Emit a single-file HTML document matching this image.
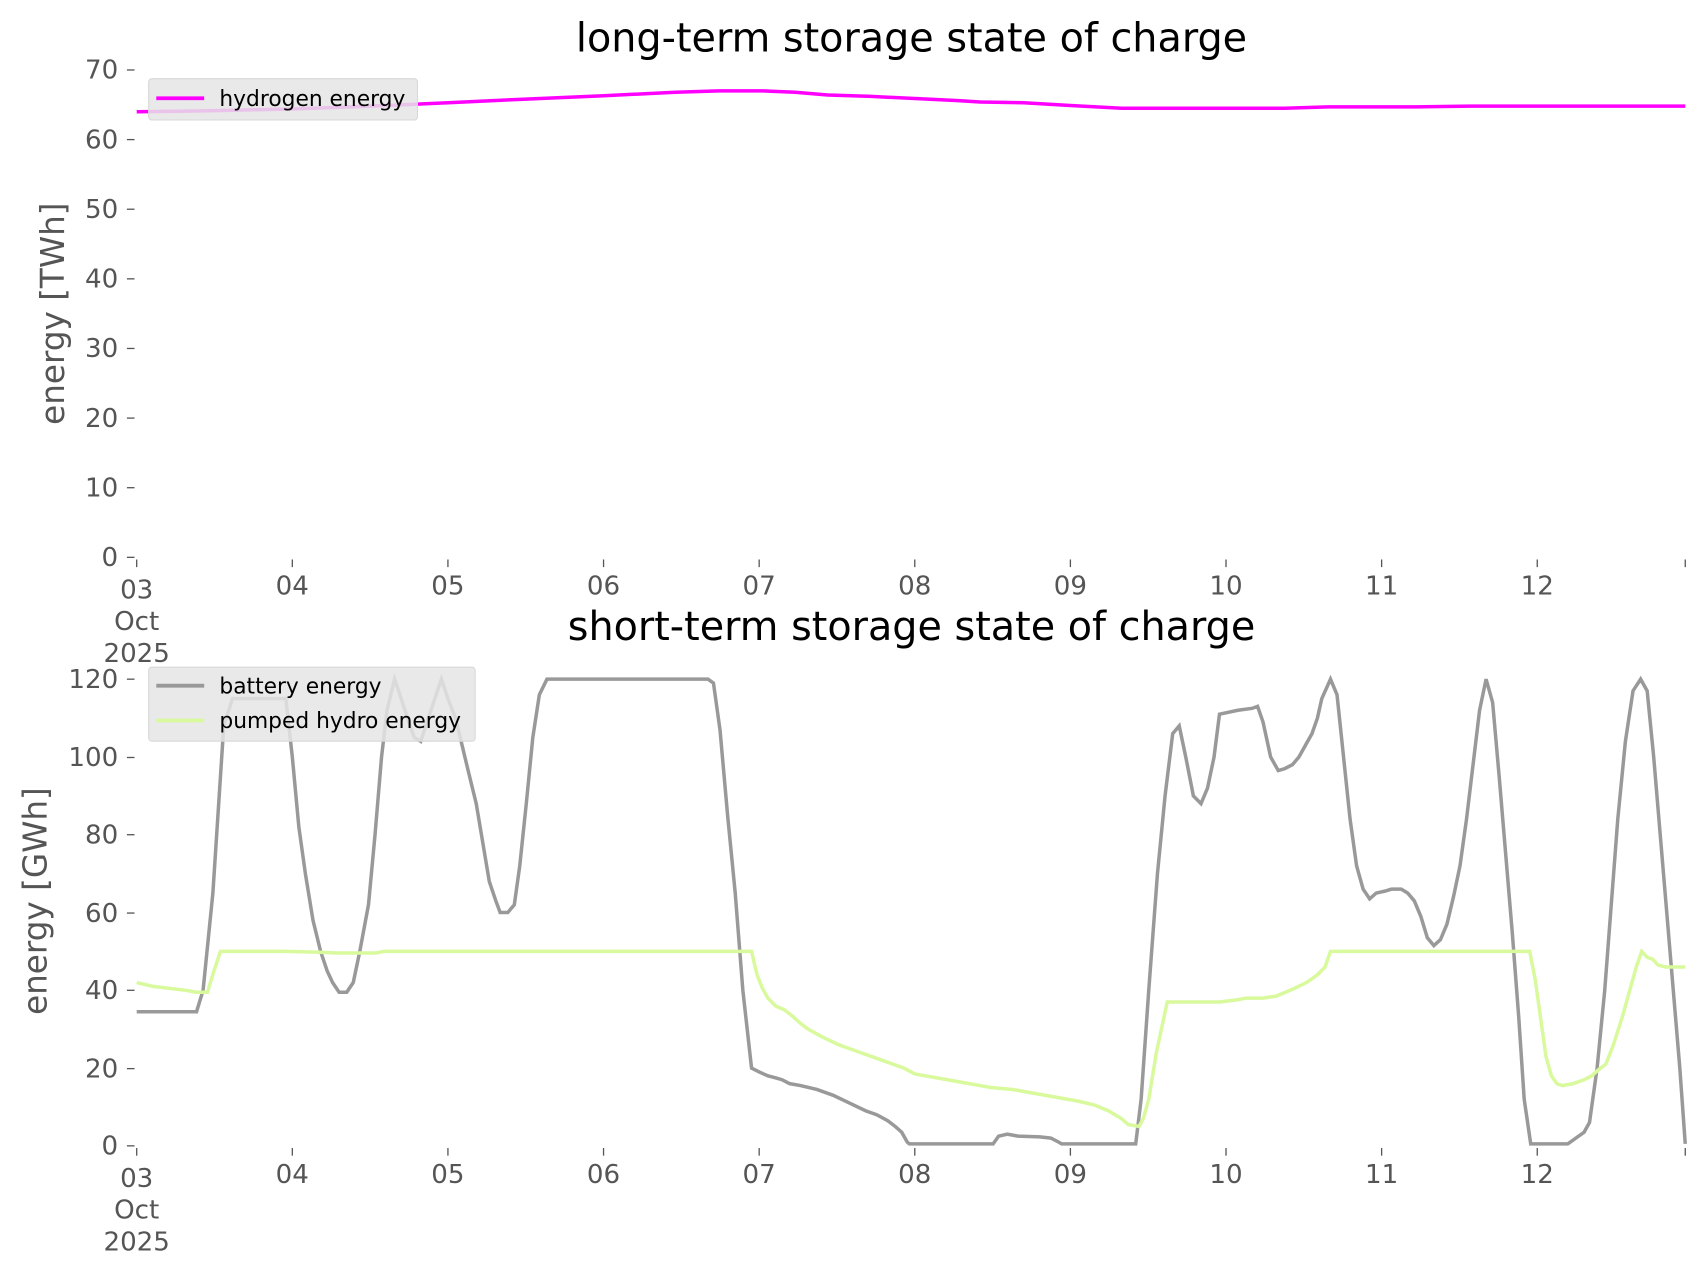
<!DOCTYPE html>
<html><head><meta charset="utf-8"><style>
html,body{margin:0;padding:0;background:#fff}
svg{display:block}
text{font-family:"DejaVu Sans","Liberation Sans",sans-serif}
.t{font-size:24px;fill:#555}
.ti{font-size:36.5px;fill:#000;text-anchor:middle}
.yl{font-size:30px;fill:#555;text-anchor:middle}
.lg{font-size:20px;fill:#000}
</style></head><body>
<svg width="1706" height="1277" viewBox="0 0 1560 1168" preserveAspectRatio="none" xmlns="http://www.w3.org/2000/svg">
<rect width="1560" height="1168" fill="#fff"/>
<g transform="translate(125,64) scale(0.9951,0.995) translate(-125,-64)">
<!-- TOP -->
<text class="ti" x="837" y="47">long-term storage state of charge</text>
<text class="yl" transform="translate(58,288) rotate(-90)">energy [TWh]</text>
<g stroke="#555" stroke-width="1.2">
<line x1="116" x2="123" y1="64" y2="64"/><line x1="116" x2="123" y1="128" y2="128"/><line x1="116" x2="123" y1="192" y2="192"/><line x1="116" x2="123" y1="256" y2="256"/><line x1="116" x2="123" y1="320" y2="320"/><line x1="116" x2="123" y1="384" y2="384"/><line x1="116" x2="123" y1="448" y2="448"/><line x1="116" x2="123" y1="512" y2="512"/>
<line x1="125" x2="125" y1="514" y2="521"/><line x1="268" x2="268" y1="514" y2="521"/><line x1="411" x2="411" y1="514" y2="521"/><line x1="554" x2="554" y1="514" y2="521"/><line x1="697" x2="697" y1="514" y2="521"/><line x1="840" x2="840" y1="514" y2="521"/><line x1="983" x2="983" y1="514" y2="521"/><line x1="1126" x2="1126" y1="514" y2="521"/><line x1="1269" x2="1269" y1="514" y2="521"/><line x1="1412" x2="1412" y1="514" y2="521"/><line x1="1548" x2="1548" y1="514" y2="521"/>
</g>
<g class="t" text-anchor="end">
<text x="108" y="72">70</text><text x="108" y="136">60</text><text x="108" y="200">50</text><text x="108" y="264">40</text><text x="108" y="328">30</text><text x="108" y="392">20</text><text x="108" y="456">10</text><text x="108" y="520">0</text>
</g>
<g class="t" text-anchor="middle">
<text x="125" y="550">03</text><text x="125" y="579">Oct</text><text x="125" y="608">2025</text>
<text x="268" y="546">04</text><text x="411" y="546">05</text><text x="554" y="546">06</text><text x="697" y="546">07</text><text x="840" y="546">08</text><text x="983" y="546">09</text><text x="1126" y="546">10</text><text x="1269" y="546">11</text><text x="1412" y="546">12</text>
</g>
<g transform="translate(0,512) scale(1,-6.4)">
<polyline fill="none" stroke="#ff00ff" stroke-width="3.5" vector-effect="non-scaling-stroke" points="125,64 180,64.1 268,64.4 340,64.8 411,65.3 480,65.8 554,66.3 620,66.8 660,67 700,67 730,66.8 760,66.4 800,66.2 840,65.9 880,65.6 900,65.4 940,65.3 983,64.9 1030,64.5 1126,64.5 1180,64.5 1220,64.7 1300,64.7 1350,64.8 1548,64.8"/>
</g>
<rect x="136" y="72" width="247" height="38" rx="3" fill="#e5e5e5" fill-opacity="0.85" stroke="#d8d8d8"/>
<line x1="143" x2="187" y1="90" y2="90" stroke="#ff00ff" stroke-width="3.5"/>
<text class="lg" x="201" y="97">hydrogen energy</text>
<!-- BOTTOM -->
<text class="ti" x="837" y="588">short-term storage state of charge</text>
<text class="yl" transform="translate(42,828) rotate(-90)">energy [GWh]</text>
<g stroke="#555" stroke-width="1.2">
<line x1="116" x2="123" y1="624" y2="624"/><line x1="116" x2="123" y1="696" y2="696"/><line x1="116" x2="123" y1="767" y2="767"/><line x1="116" x2="123" y1="839" y2="839"/><line x1="116" x2="123" y1="910" y2="910"/><line x1="116" x2="123" y1="982" y2="982"/><line x1="116" x2="123" y1="1053" y2="1053"/>
<line x1="125" x2="125" y1="1055" y2="1062"/><line x1="268" x2="268" y1="1055" y2="1062"/><line x1="411" x2="411" y1="1055" y2="1062"/><line x1="554" x2="554" y1="1055" y2="1062"/><line x1="697" x2="697" y1="1055" y2="1062"/><line x1="840" x2="840" y1="1055" y2="1062"/><line x1="983" x2="983" y1="1055" y2="1062"/><line x1="1126" x2="1126" y1="1055" y2="1062"/><line x1="1269" x2="1269" y1="1055" y2="1062"/><line x1="1412" x2="1412" y1="1055" y2="1062"/><line x1="1548" x2="1548" y1="1055" y2="1062"/>
</g>
<g class="t" text-anchor="end">
<text x="108" y="632">120</text><text x="108" y="704">100</text><text x="108" y="775">80</text><text x="108" y="847">60</text><text x="108" y="918">40</text><text x="108" y="990">20</text><text x="108" y="1061">0</text>
</g>
<g class="t" text-anchor="middle">
<text x="125" y="1091">03</text><text x="125" y="1120">Oct</text><text x="125" y="1149">2025</text>
<text x="268" y="1087">04</text><text x="411" y="1087">05</text><text x="554" y="1087">06</text><text x="697" y="1087">07</text><text x="840" y="1087">08</text><text x="983" y="1087">09</text><text x="1126" y="1087">10</text><text x="1269" y="1087">11</text><text x="1412" y="1087">12</text>
</g>
<g transform="translate(0,1053) scale(1,-3.575)">
<polyline fill="none" stroke="#999999" stroke-width="3.5" vector-effect="non-scaling-stroke" points="125,34.5 180,34.5 186,40 195,65 205,108 213,115 240,115 262,115 268,100 274,82 280,70 287,58 294,50 300,45 305,42 311,39.5 318,39.5 324,42 330,50 338,62 344,80 350,100 355,112 362,120 368,115 375,109 380,105 386,104 393,110 399,115 405,120 411,115 418,110 424,103 430,96 437,88 443,78 449,68 455,63 459,60 466,60 472,62 477,72 483,88 489,105 495,116 502,120 650,120 655,119 661,107 668,85 675,65 682,40 690,20 697,19 705,18 712,17.5 718,17 725,16 735,15.5 750,14.5 765,13 780,11 795,9 805,8 815,6.5 822,5 828,3.5 833,1 835,0.5 912,0.5 917,2.5 925,3 935,2.5 955,2.3 965,2 972,1 975,0.5 1043,0.5 1048,12 1055,40 1063,70 1070,90 1077,106 1083,108 1089,100 1096,90 1103,88 1109,92 1115,100 1120,111 1137,112 1150,112.5 1155,113 1160,109 1167,100 1174,96.5 1180,97 1187,98 1193,100 1199,103 1205,106 1210,110 1214,115 1222,120 1228,116 1234,100 1240,84 1246,72 1252,66 1258,63.5 1264,65 1272,65.5 1278,66 1287,66 1293,65 1299,63 1305,59 1311,53.5 1317,51.5 1323,53 1329,57 1335,64 1341,72 1347,84 1353,98 1359,112 1365,120 1371,114 1377,95 1383,75 1389,55 1395,33 1400,12 1406,0.5 1440,0.5 1445,1.5 1450,2.5 1455,3.5 1460,6 1467,20 1474,40 1480,62 1486,84 1493,104 1500,117 1507,120 1513,117 1519,100 1525,80 1531,60 1537,40 1543,20 1548,0.5"/>
<polyline fill="none" stroke="#d9f99d" stroke-width="3.5" vector-effect="non-scaling-stroke" points="125,42 140,41 155,40.5 170,40 180,39.5 190,39.5 196,45 202,50 262,50 290,49.8 310,49.6 345,49.6 352,50 690,50 695,44 700,40.5 705,38 712,36 720,35 727,33.5 735,31.5 742,30 755,28 770,26 790,24 810,22 830,20 840,18.5 850,18 870,17 890,16 910,15 930,14.5 950,13.5 970,12.5 990,11.5 1005,10.5 1018,9 1030,7 1036,5.5 1046,5 1050,7 1055,12 1062,24 1072,37 1120,37 1135,37.5 1145,38 1160,38 1172,38.5 1185,40 1200,42 1210,44 1217,46 1222,50 1405,50 1410,43 1415,33 1420,23 1425,18 1430,16 1435,15.5 1445,16 1455,17 1462,18 1468,19.5 1475,21 1482,26 1490,33 1497,40 1503,46 1508,50 1513,48.5 1518,48 1523,46.5 1530,46 1548,46"/>
</g>
<rect x="136" y="613" width="300" height="68" rx="3" fill="#e5e5e5" fill-opacity="0.85" stroke="#d8d8d8"/>
<line x1="143" x2="187" y1="630" y2="630" stroke="#999999" stroke-width="3.5"/>
<text class="lg" x="201" y="637">battery energy</text>
<line x1="143" x2="187" y1="662" y2="662" stroke="#d9f99d" stroke-width="3.5"/>
<text class="lg" x="201" y="669">pumped hydro energy</text>
</g>
</svg>
</body></html>
